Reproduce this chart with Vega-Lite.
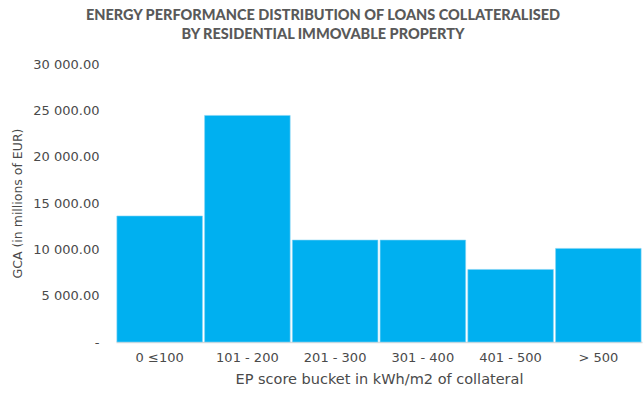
{
  "$schema": "https://vega.github.io/schema/vega-lite/v6.json",
  "autosize": {"type": "none"},
  "width": 526,
  "height": 278,
  "padding": {"left": 116, "top": 64, "right": 1, "bottom": 54},
  "background": "white",
  "title": {
    "text": ["ENERGY PERFORMANCE DISTRIBUTION OF LOANS COLLATERALISED", "BY RESIDENTIAL IMMOVABLE PROPERTY"],
    "anchor": "middle",
    "dx": -56,
    "offset": 16,
    "font": "Lato",
    "fontSize": 14.5,
    "fontWeight": 900,
    "color": "#595959",
    "lineHeight": 19
  },
  "data": {
    "values": [
      {"bucket": "0 ≤100", "gca": 13600},
      {"bucket": "101 - 200", "gca": 24450},
      {"bucket": "201 - 300", "gca": 11000},
      {"bucket": "301 - 400", "gca": 11000},
      {"bucket": "401 - 500", "gca": 7830},
      {"bucket": "> 500", "gca": 10100}
    ]
  },
  "mark": {"type": "bar", "color": "#00B0F0", "stroke": "#7fd3f5", "strokeWidth": 0.6},
  "encoding": {
    "x": {
      "field": "bucket",
      "type": "nominal",
      "sort": null,
      "scale": {"paddingInner": 0.025, "paddingOuter": 0.01},
      "axis": {
        "title": "EP score bucket in kWh/m2 of collateral",
        "labelAngle": 0,
        "ticks": false,
        "domainColor": "#d9d9d9",
        "domainWidth": 1.5,
        "labelPadding": 9,
        "labelFont": "DejaVu Sans",
        "labelFontSize": 13,
        "labelFontWeight": "normal",
        "labelColor": "#4a4a4a",
        "titleFont": "DejaVu Sans",
        "titleFontSize": 14.5,
        "titleFontWeight": "normal",
        "titleColor": "#4a4a4a",
        "titlePadding": 8
      }
    },
    "y": {
      "field": "gca",
      "type": "quantitative",
      "scale": {"domain": [0, 30000], "nice": false},
      "axis": {
        "title": "GCA (in millions of EUR)",
        "values": [0, 5000, 10000, 15000, 20000, 25000, 30000],
        "labelExpr": "datum.value == 0 ? '-' : replace(format(datum.value, ',.2f'), ',', ' ')",
        "grid": false,
        "ticks": false,
        "domain": false,
        "labelPadding": 17,
        "labelFont": "DejaVu Sans",
        "labelFontSize": 13,
        "labelFontWeight": "normal",
        "labelColor": "#4a4a4a",
        "titleFont": "DejaVu Sans",
        "titleFontSize": 12.5,
        "titleFontWeight": "normal",
        "titleColor": "#4a4a4a",
        "titlePadding": 8
      }
    }
  },
  "config": {"view": {"stroke": null}}
}
